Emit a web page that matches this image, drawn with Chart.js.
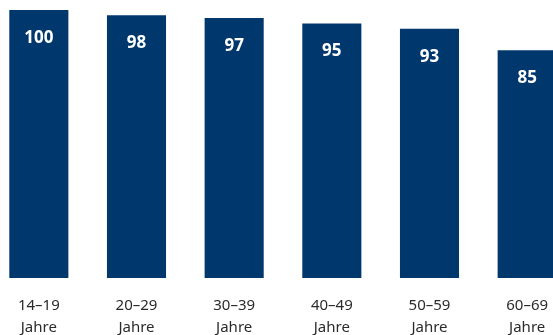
<!DOCTYPE html>
<html>
<head>
<meta charset="utf-8">
<script src="https://cdn.jsdelivr.net/npm/chart.js@4/dist/chart.umd.min.js"></script>
<style>
  html, body { margin: 0; padding: 0; background: #fff; overflow: hidden; }
  #wrap { position: absolute; left: -10px; top: 0; width: 586px; height: 335px; }
</style>
</head>
<body>
<div id="wrap"><canvas id="ageChart"></canvas></div>
<script>
// age groups and index values
const ageGroups = [["14–19", "Jahre"], ["20–29", "Jahre"], ["30–39", "Jahre"], ["40–49", "Jahre"], ["50–59", "Jahre"], ["60–69", "Jahre"]];
const indexValues = [100, 98, 97, 95, 93, 85];

const barColor = "#00386e";

// write the value inside each bar near its top
const valueLabels = {
  id: "valueLabels",
  afterDatasetsDraw(chart) {
    const ctx = chart.ctx;
    const meta = chart.getDatasetMeta(0);
    ctx.save();
    ctx.fillStyle = "#fff";
    ctx.font = "bold 17px 'Noto Sans', sans-serif";
    ctx.textAlign = "center";
    ctx.textBaseline = "middle";
    meta.data.forEach((bar, i) => {
      ctx.fillText(indexValues[i], bar.x, bar.y + 28);
    });
    ctx.restore();
  }
};

new Chart(document.getElementById("ageChart"), {
  type: "bar",
  data: {
    labels: ageGroups,
    datasets: [{
      data: indexValues,
      backgroundColor: barColor,
      barPercentage: 1,
      categoryPercentage: 0.605
    }]
  },
  options: {
    responsive: true,
    maintainAspectRatio: false,
    animation: false,
    layout: { padding: { top: 10, left: 0, right: 0, bottom: 0 } },
    plugins: {
      legend: { display: false },
      tooltip: { enabled: false }
    },
    scales: {
      x: {
        grid: { display: false, drawTicks: false },
        border: { display: false },
        ticks: {
          color: "#2b2b2b",
          font: { family: "'Noto Sans', sans-serif", size: 15, lineHeight: 1.45 },
          padding: 17,
          maxRotation: 0
        },
        // keep the label band the same height as the original
        afterFit: scale => { scale.height = 57; }
      },
      y: {
        display: false,
        min: 0,
        max: 100
      }
    }
  },
  plugins: [valueLabels]
});
</script>
</body>
</html>
